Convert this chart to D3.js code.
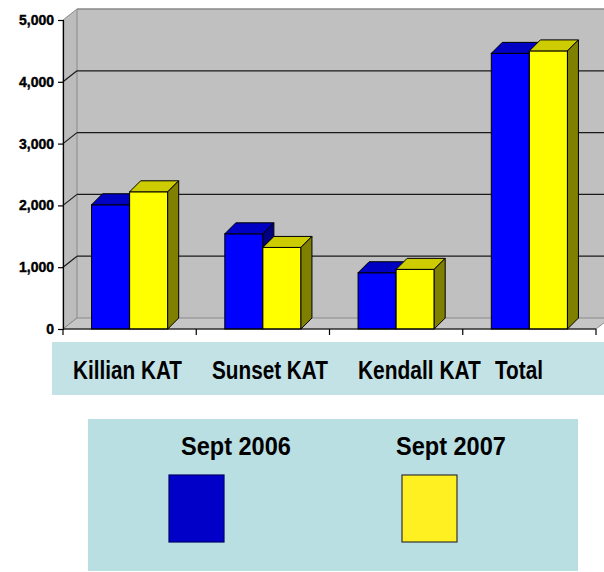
<!DOCTYPE html>
<html>
<head>
<meta charset="utf-8">
<script src="https://cdn.jsdelivr.net/npm/d3@7"></script>
<style>
  html, body { margin: 0; padding: 0; background: #ffffff; }
  svg { display: block; }
  text { font-family: "Liberation Sans", Arial, sans-serif; font-weight: bold; fill: #000; }
</style>
</head>
<body>
<svg id="chart" width="604" height="572"></svg>
<script>
// ---- data ----
const categories = ["Killian KAT", "Sunset KAT", "Kendall KAT", "Total"];
const seriesNames = ["Sept 2006", "Sept 2007"];
const sept2006 = [2010, 1540, 910, 4460];
const sept2007 = [2220, 1320, 965, 4500];
const yTickValues = [0, 1000, 2000, 3000, 4000, 5000];

// ---- styles / layout ----
const frontColors = ["#0000ff", "#ffff00"];
const topColors = ["#0000c4", "#cccc00"];
const sideColors = ["#000080", "#808000"];
const swatchColors = ["#0000c8", "#fff022"];
const swatchStroke = ["#00006a", "#333333"];

const svg = d3.select("#chart");
const left = 63, right = 596, y0px = 329, y1px = 20;
const wallDx = 14, wallDy = 11;
const barDx = 11, barDy = 11;

const y = d3.scaleLinear().domain([0, 5000]).range([y0px, y1px]);
const x = d3.scaleBand().domain(categories).range([left, right]).padding(0);
const xs = d3.scaleBand().domain(seriesNames).range([0, x.bandwidth()]).paddingInner(0).paddingOuter(0.75);

const pts = a => a.map(p => p.join(",")).join(" ");

// back wall
svg.append("polygon")
  .attr("points", pts([[left + wallDx, y(5000) - wallDy], [right + wallDx, y(5000) - wallDy],
                       [right + wallDx, y(0) - wallDy], [left + wallDx, y(0) - wallDy]]))
  .attr("fill", "#c0c0c0");
// side wall
svg.append("polygon")
  .attr("points", pts([[left, y(0)], [left, y(5000)], [left + wallDx, y(5000) - wallDy], [left + wallDx, y(0) - wallDy]]))
  .attr("fill", "#bcbcbc").attr("stroke", "#8a8a8a").attr("stroke-width", 1);
// floor
svg.append("polygon")
  .attr("points", pts([[left, y(0)], [right, y(0)], [right + wallDx, y(0) - wallDy], [left + wallDx, y(0) - wallDy]]))
  .attr("fill", "#c6c6c6").attr("stroke", "#8a8a8a").attr("stroke-width", 1);

// wall top edge
svg.append("line")
  .attr("x1", left + wallDx).attr("x2", right + wallDx)
  .attr("y1", y(5000) - wallDy).attr("y2", y(5000) - wallDy)
  .attr("stroke", "#8a8a8a").attr("stroke-width", 1.5);

// gridlines on back wall + side wall
const gridVals = yTickValues.filter(v => v > 0 && v < 5000);
svg.selectAll(".grid").data(gridVals).enter().append("line")
  .attr("x1", left + wallDx).attr("x2", right + wallDx)
  .attr("y1", d => y(d) - wallDy).attr("y2", d => y(d) - wallDy)
  .attr("stroke", "#1a1a1a").attr("stroke-width", 1.2);
svg.selectAll(".gridside").data(gridVals).enter().append("line")
  .attr("x1", left).attr("x2", left + wallDx)
  .attr("y1", d => y(d)).attr("y2", d => y(d) - wallDy)
  .attr("stroke", "#1a1a1a").attr("stroke-width", 1.2);

// bars
const seriesValues = [sept2006, sept2007];
categories.forEach((c, ci) => {
  seriesNames.forEach((s, si) => {
    const v = seriesValues[si][ci];
    const x0 = x(c) + xs(s), w = xs.bandwidth();
    const yt = y(v), yb = y(0);
    const g = svg.append("g");
    g.append("rect").attr("x", x0).attr("y", yt).attr("width", w).attr("height", yb - yt)
      .attr("fill", frontColors[si]).attr("stroke", "#000").attr("stroke-width", 1);
    g.append("polygon")
      .attr("points", pts([[x0, yt], [x0 + barDx, yt - barDy], [x0 + w + barDx, yt - barDy], [x0 + w, yt]]))
      .attr("fill", topColors[si]).attr("stroke", "#000").attr("stroke-width", 1).attr("stroke-linejoin", "round");
    g.append("polygon")
      .attr("points", pts([[x0 + w, yt], [x0 + w + barDx, yt - barDy], [x0 + w + barDx, yb - barDy], [x0 + w, yb]]))
      .attr("fill", sideColors[si]).attr("stroke", "#000").attr("stroke-width", 1).attr("stroke-linejoin", "round");
  });
});

// y axis
const yAxis = svg.append("g").attr("transform", `translate(${left},0)`)
  .call(d3.axisLeft(y).tickValues(yTickValues).tickSize(5).tickPadding(4).tickFormat(d3.format(",")));
yAxis.select(".domain").attr("stroke", "#000").attr("stroke-width", 1.2);
yAxis.selectAll(".tick line").attr("stroke", "#000").attr("stroke-width", 1.2);
yAxis.selectAll("text")
  .style("font-family", "'Liberation Sans', Arial, sans-serif")
  .style("font-weight", "bold").style("font-size", "14px")
  .attr("fill", "#000").attr("stroke", "#000").attr("stroke-width", 0.4);

// x axis line and boundary ticks
svg.append("line").attr("x1", left).attr("x2", right).attr("y1", y(0)).attr("y2", y(0))
  .attr("stroke", "#000").attr("stroke-width", 1.2);
const boundaries = categories.map(c => x(c)).concat([x.range()[1]]);
svg.selectAll(".xtick").data(boundaries).enter().append("line")
  .attr("x1", d => d).attr("x2", d => d).attr("y1", y(0)).attr("y2", y(0) + 6)
  .attr("stroke", "#000").attr("stroke-width", 1.2);

// helper: draw condensed text fitted to a target width via a horizontal scale
function fitText(parent, str, tx, ty, targetW, size) {
  const g = parent.append("g");
  const t = g.append("text").attr("x", 0).attr("y", 0).style("font-size", size + "px").text(str);
  const natural = t.node().getComputedTextLength();
  const k = targetW / natural;
  g.attr("transform", `translate(${tx},${ty}) scale(${k},1)`);
  return g;
}

// category label box
svg.append("rect").attr("x", 52).attr("y", 342).attr("width", 560).attr("height", 53).attr("fill", "#c3e2e6");
const labelX = [73, 212, 358, 495];
const labelW = [109, 116, 123, 48];
categories.forEach((c, i) => fitText(svg, c, labelX[i], 379, labelW[i], 25));

// legend box
svg.append("rect").attr("x", 88).attr("y", 419).attr("width", 490).attr("height", 152).attr("fill", "#b9dfe3");
const legTextX = [181, 396];
const legSwatchX = [169, 402];
seriesNames.forEach((s, i) => {
  fitText(svg, s, legTextX[i], 455, 110, 25);
  svg.append("rect").attr("x", legSwatchX[i]).attr("y", 475).attr("width", 55).attr("height", 67)
    .attr("fill", swatchColors[i]).attr("stroke", swatchStroke[i]).attr("stroke-width", 1.2);
});
</script>
</body>
</html>
